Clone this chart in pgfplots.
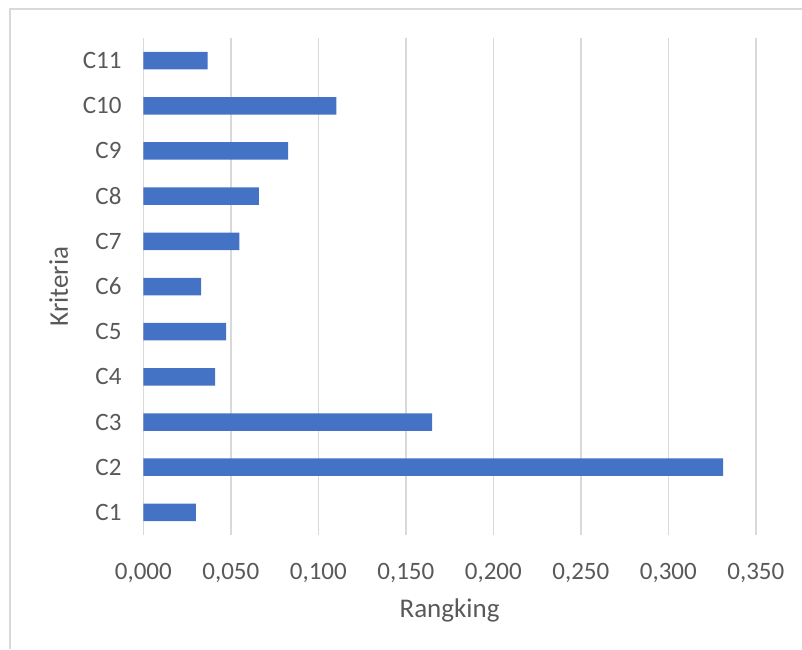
\documentclass[border=0pt]{standalone}
\usepackage{fontspec}
\setmainfont{Carlito}
\usepackage{pgfplots}
\pgfplotsset{compat=1.18}
\definecolor{barblue}{HTML}{4472C4}
\definecolor{gridgray}{HTML}{D9D9D9}
\definecolor{txtgray}{HTML}{595959}
\begin{document}
\begin{tikzpicture}[x=1pt,y=1pt]
\path[use as bounding box] (0,0) rectangle (802,649);
\draw[gridgray,line width=1.5pt] (10,0) -- (10,640) -- (802,640);
\begin{axis}[
  at={(143.3pt,114pt)}, anchor=south west,
  width=612.5pt, height=497pt, scale only axis,
  xbar, bar width=17.5pt,
  xmin=0, xmax=0.35, ymin=-0.5, ymax=10.5,
  xtick distance=0.05,
  ytick={0,...,10},
  yticklabels={C1,C2,C3,C4,C5,C6,C7,C8,C9,C10,C11},
  xmajorgrids=true,
  major grid style={gridgray,line width=1.5pt},
  axis line style={draw=none},
  major tick style={draw=none},
  tick label style={font=\fontsize{25}{29}\selectfont, text=txtgray},
  label style={font=\fontsize{27}{31}\selectfont, text=txtgray},
  /pgf/number format/.cd, fixed, fixed zerofill, precision=3, use comma, assume math mode=true,
  /pgfplots/.cd,
  scaled x ticks=false,
  xticklabel style={yshift=-25pt},
  yticklabel style={xshift=-14pt},
  xlabel={Rangking},
  ylabel={Kriteria},
  xlabel style={yshift=-9pt},
  ylabel style={yshift=8pt},
]
\addplot[draw=none, fill=barblue] coordinates {
 (0.0300,0) (0.3313,1) (0.1650,2) (0.0411,3) (0.0473,4) (0.0330,5)
 (0.0549,6) (0.0661,7) (0.0827,8) (0.1103,9) (0.0368,10)
};
\end{axis}
\end{tikzpicture}
\end{document}
